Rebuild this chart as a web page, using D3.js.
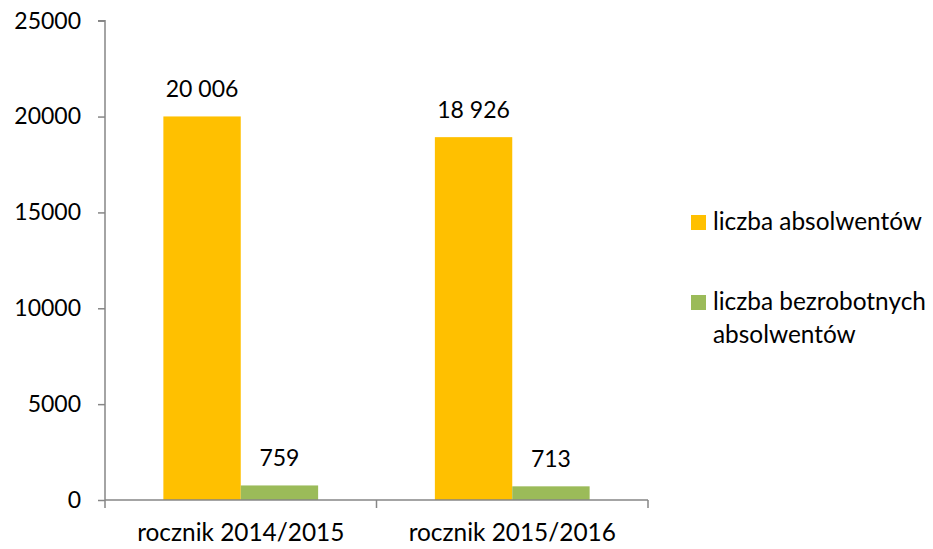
<!DOCTYPE html>
<html>
<head>
<meta charset="utf-8">
<script src="https://cdn.jsdelivr.net/npm/d3@7"></script>
<style>
  html, body { margin: 0; padding: 0; background: #fff; }
  svg { display: block; }
  text { font-family: Lato, "Open Sans", sans-serif; fill: #000; }
</style>
</head>
<body>
<svg id="chart" width="933" height="549"></svg>
<script>
const categories = ["rocznik 2014/2015", "rocznik 2015/2016"];
const seriesNames = ["liczba absolwentów", "liczba bezrobotnych absolwentów"];
const absolwenci = [20006, 18926];
const bezrobotni = [759, 713];
const yTicks = [0, 5000, 10000, 15000, 20000, 25000];
const colors = ["#FFC000", "#9BBB59"];

(function () {
const svg = d3.select("#chart");
const mLeft = 105, mRight = 648, mTop = 20.7, mBottom = 500;
const fontSize = 23;
const wordSize = 24.4;
const axisColor = "#868686";

const x0 = d3.scaleBand().domain(categories).range([mLeft, mRight])
  .paddingInner(0.43).paddingOuter(0.215);
const x1 = d3.scaleBand().domain([0, 1]).range([0, x0.bandwidth()]);
const y = d3.scaleLinear().domain([0, 25000]).range([mBottom, mTop]);

const fmt = v => d3.format(",")(v).replace(/,/g, " ");

const data = categories.map((c, i) => ({ cat: c, vals: [absolwenci[i], bezrobotni[i]] }));

// bars
const g = svg.append("g");
data.forEach(d => {
  d.vals.forEach((v, s) => {
    g.append("rect")
      .attr("x", x0(d.cat) + x1(s))
      .attr("y", y(v))
      .attr("width", x1.bandwidth())
      .attr("height", y(0) - y(v))
      .attr("fill", colors[s]);
    g.append("text")
      .attr("x", x0(d.cat) + x1(s) + x1.bandwidth() / 2)
      .attr("y", y(v) - 19)
      .attr("text-anchor", "middle")
      .attr("font-size", fontSize)
      .text(fmt(v));
  });
});

// y axis
const yAxis = d3.axisLeft(y).tickValues(yTicks).tickSize(7).tickPadding(17).tickFormat(d3.format("d"));
const ya = svg.append("g").attr("transform", `translate(${mLeft},0)`).call(yAxis);
ya.select(".domain").attr("stroke", axisColor).attr("stroke-width", 1.5).attr("d", `M-7,${mTop}H0V${mBottom}`);
ya.selectAll(".tick line").attr("stroke", axisColor).attr("stroke-width", 1.5);
ya.selectAll(".tick text").attr("font-size", fontSize).attr("font-family", "Lato").attr("fill", "#000");

// x axis
const xa = svg.append("g").attr("transform", `translate(0,${mBottom})`);
xa.append("line").attr("x1", mLeft).attr("x2", mRight).attr("y1", 0).attr("y2", 0)
  .attr("stroke", axisColor).attr("stroke-width", 1.5);
const boundaries = [mLeft].concat(categories.map(c => x0(c) - x0.step() * x0.paddingOuter() + x0.step()));
boundaries.forEach(bx => {
  xa.append("line").attr("x1", bx).attr("x2", bx).attr("y1", 0).attr("y2", 8)
    .attr("stroke", axisColor).attr("stroke-width", 1.5);
});
categories.forEach(c => {
  xa.append("text")
    .attr("x", x0(c) + x0.bandwidth() / 2)
    .attr("y", 41)
    .attr("text-anchor", "middle")
    .attr("font-size", wordSize)
    .text(c);
});

// legend
const leg = svg.append("g");
const legItems = [
  { lines: ["liczba absolwentów"], y: 215 },
  { lines: ["liczba bezrobotnych", "absolwentów"], y: 295 }
];
legItems.forEach((it, i) => {
  leg.append("rect").attr("x", 691).attr("y", it.y).attr("width", 15).attr("height", 15).attr("fill", colors[i]);
  it.lines.forEach((ln, j) => {
    leg.append("text").attr("x", 713).attr("y", it.y + 15 + j * 33)
      .attr("font-size", wordSize).text(ln);
  });
});
})();
</script>
</body>
</html>
